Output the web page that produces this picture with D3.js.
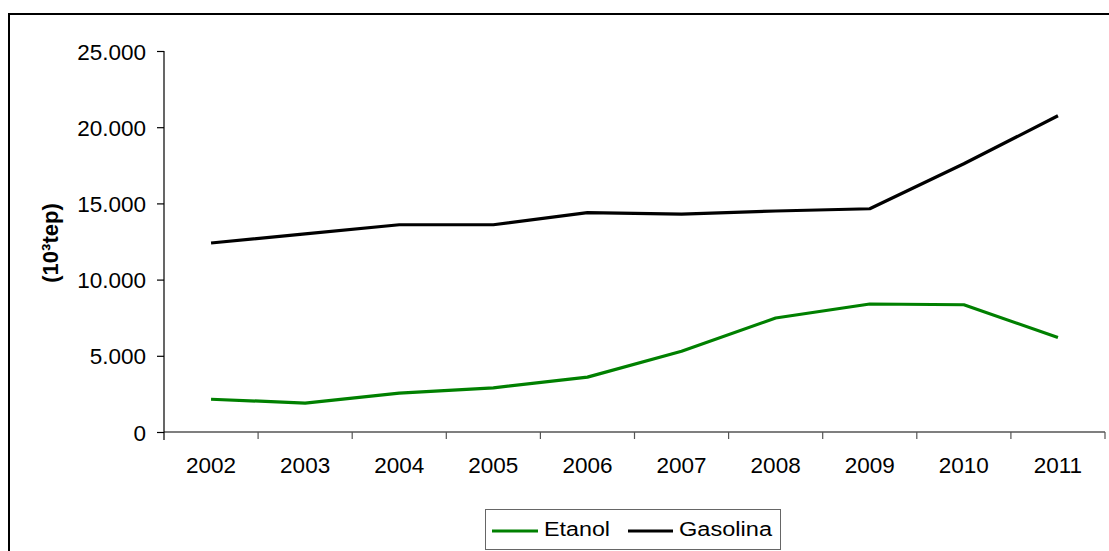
<!DOCTYPE html>
<html>
<head>
<meta charset="utf-8">
<script src="https://cdn.jsdelivr.net/npm/d3@7"></script>
<style>
  html, body { margin: 0; padding: 0; background: #fff; }
  svg { display: block; font-family: "Liberation Sans", Arial, sans-serif; }
</style>
</head>
<body>
<svg id="chart" width="1109" height="551"></svg>
<script>
// Consumo de etanol e gasolina (10³ tep), 2002–2011
const years = ["2002", "2003", "2004", "2005", "2006", "2007", "2008", "2009", "2010", "2011"];
const etanol = [2150, 1900, 2550, 2900, 3600, 5300, 7480, 8400, 8350, 6200];
const gasolina = [12400, 13000, 13600, 13600, 14400, 14300, 14500, 14650, 17600, 20750];
const yTicks = [0, 5000, 10000, 15000, 20000, 25000];
const seriesNames = ["Etanol", "Gasolina"];
const seriesColors = ["#008000", "#000000"];

const svg = d3.select("#chart");
const W = 1109, H = 551;
const plot = { left: 164, right: 1105, top: 51, bottom: 432 };

// pt-BR number style: 25.000
const fmt = d3.formatLocale({ decimal: ",", thousands: ".", grouping: [3], currency: ["R$", ""] }).format(",d");

// outer frame (continues past the right and bottom edges)
svg.append("rect")
  .attr("x", 9).attr("y", 14)
  .attr("width", W + 20).attr("height", H + 20)
  .attr("fill", "none").attr("stroke", "#000").attr("stroke-width", 2);

const x = d3.scaleBand().domain(years).range([plot.left, plot.right]).padding(0);
const y = d3.scaleLinear().domain([0, 25000]).range([plot.bottom, plot.top]);

// y axis
const yAxis = svg.append("g")
  .attr("transform", `translate(${plot.left},0)`)
  .call(d3.axisLeft(y).tickValues(yTicks).tickFormat(fmt).tickSize(7).tickPadding(11));
yAxis.select(".domain").attr("d", `M0,${plot.top}V${plot.bottom + 8}`).attr("stroke", "#000").attr("stroke-width", 1.2);
yAxis.selectAll(".tick line").attr("stroke", "#000").attr("stroke-width", 1.2);
yAxis.selectAll(".tick text")
  .attr("font-size", 22.5).attr("fill", "#000")
  .attr("font-family", "Liberation Sans, Arial, sans-serif")
  .attr("dy", "0.36em");

// x axis: ticks on category boundaries, labels centred in each band
const xAxis = svg.append("g").attr("transform", `translate(0,${plot.bottom})`);
xAxis.append("line")
  .attr("x1", plot.left).attr("x2", plot.right)
  .attr("stroke", "#000").attr("stroke-width", 1.2);
const bounds = years.map(d => x(d)).concat([x(years[years.length - 1]) + x.bandwidth()]);
xAxis.selectAll("line.tk").data(bounds.slice(1)).join("line")
  .attr("class", "tk")
  .attr("x1", d => d).attr("x2", d => d)
  .attr("y1", 0).attr("y2", 7)
  .attr("stroke", "#555").attr("stroke-width", 1.2);
xAxis.selectAll("text").data(years).join("text")
  .attr("x", d => x(d) + x.bandwidth() / 2)
  .attr("y", 41)
  .attr("text-anchor", "middle")
  .attr("font-size", 22.5)
  .attr("fill", "#000")
  .text(d => d);

// y axis title
svg.append("text")
  .attr("transform", "translate(58,243) rotate(-90)")
  .attr("text-anchor", "middle")
  .attr("font-size", 22)
  .attr("font-weight", "bold")
  .attr("fill", "#000")
  .text("(10³tep)");

// series lines
const line = d3.line()
  .x((d, i) => x(years[i]) + x.bandwidth() / 2)
  .y(d => y(d));

[etanol, gasolina].forEach((vals, k) => {
  svg.append("path")
    .datum(vals)
    .attr("d", line)
    .attr("fill", "none")
    .attr("stroke", seriesColors[k])
    .attr("stroke-width", 3.2)
    .attr("stroke-linejoin", "round")
    .attr("stroke-linecap", "butt");
});

// legend
const lg = svg.append("g");
lg.append("rect")
  .attr("x", 485.5).attr("y", 509.5).attr("width", 295).attr("height", 40)
  .attr("fill", "#fff").attr("stroke", "#666").attr("stroke-width", 1);
const legendItems = [
  { name: seriesNames[0], color: seriesColors[0], x0: 492, x1: 538, tx: 544, tw: 66 },
  { name: seriesNames[1], color: seriesColors[1], x0: 628, x1: 673, tx: 679, tw: 93 }
];
legendItems.forEach(it => {
  lg.append("line")
    .attr("x1", it.x0).attr("x2", it.x1).attr("y1", 531).attr("y2", 531)
    .attr("stroke", it.color).attr("stroke-width", 3.2);
  lg.append("text")
    .attr("x", it.tx).attr("y", 535.5)
    .attr("font-size", 20)
    .attr("textLength", it.tw)
    .attr("lengthAdjust", "spacingAndGlyphs")
    .attr("fill", "#000")
    .text(it.name);
});
</script>
</body>
</html>
